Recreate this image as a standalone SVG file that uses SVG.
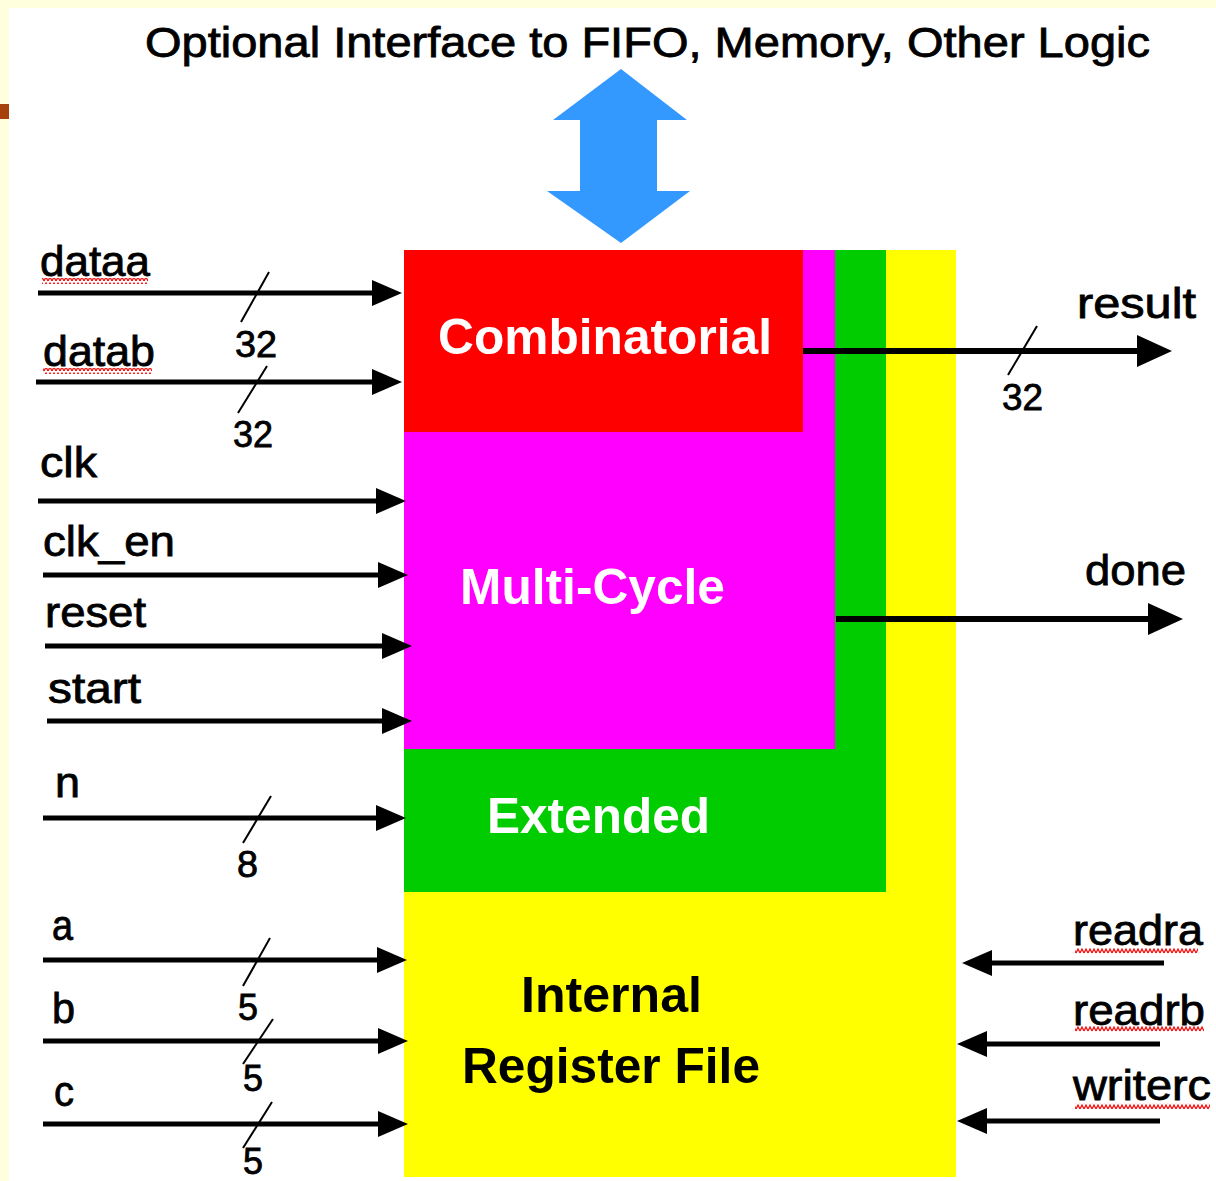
<svg xmlns="http://www.w3.org/2000/svg" width="1216" height="1181" viewBox="0 0 1216 1181">
<style>
.lbl{font-family:"Liberation Sans",Arial,sans-serif;font-size:42px;fill:#000;stroke:#000;stroke-width:0.8px}
.num{font-family:"Liberation Sans",Arial,sans-serif;font-size:36px;fill:#000;stroke:#000;stroke-width:0.8px}
.blk{font-family:"Liberation Sans",Arial,sans-serif;font-size:50px;font-weight:bold}
.w{fill:#fff}
.k{fill:#000}
.wire{stroke:#000;stroke-width:5;fill:none}
.owire{stroke:#000;stroke-width:6;fill:none}
.slash{stroke:#000;stroke-width:2}
.in{marker-end:url(#ah)}
.out{marker-end:url(#ahL)}
</style>
<defs>
<marker id="ah" markerUnits="userSpaceOnUse" markerWidth="30" markerHeight="26" refX="0" refY="13" orient="auto" overflow="visible">
<path d="M0,0 L30,13 L0,26 z" fill="#000"/>
</marker>
<marker id="ahL" markerUnits="userSpaceOnUse" markerWidth="35" markerHeight="32" refX="0" refY="16" orient="auto" overflow="visible">
<path d="M0,0 L35,16 L0,32 z" fill="#000"/>
</marker>
<pattern id="squig" patternUnits="userSpaceOnUse" width="4" height="6">
<polyline points="0,5 2,1 4,5" fill="none" stroke="#f00" stroke-width="1.2"/>
</pattern>
</defs>

<rect x="0" y="0" width="1216" height="1181" fill="#FFFFDE"/>
<rect x="9" y="8" width="1207" height="1173" fill="#FFFFFF"/>
<rect x="0" y="104" width="9" height="15" fill="#A8420C"/>

<text class="lbl" x="145" y="57" font-size="44" textLength="1005" lengthAdjust="spacingAndGlyphs">Optional Interface to FIFO, Memory, Other Logic</text>

<g id="interface-arrow">
<polygon points="621,69 687,120 657,120 657,191 690,191 621,243 547,191 580,191 580,120 553,120" fill="#3399FF"/>
</g>

<g id="regfile">
<rect x="404" y="250" width="552" height="927" fill="#FFFF00"/>
<text class="blk k" x="521" y="1012" textLength="181" lengthAdjust="spacingAndGlyphs">Internal</text>
<text class="blk k" x="462" y="1083" textLength="298" lengthAdjust="spacingAndGlyphs">Register File</text>
</g>
<g id="extended">
<rect x="404" y="250" width="482" height="642" fill="#00CC00"/>
<text class="blk w" x="487" y="833" textLength="223" lengthAdjust="spacingAndGlyphs">Extended</text>
</g>
<g id="multicycle">
<rect x="404" y="250" width="431" height="499" fill="#FF00FF"/>
<text class="blk w" x="460" y="604" textLength="265" lengthAdjust="spacingAndGlyphs">Multi-Cycle</text>
</g>
<g id="combinatorial">
<rect x="404" y="250" width="399" height="182" fill="#FF0000"/>
<text class="blk w" x="438" y="354" textLength="334" lengthAdjust="spacingAndGlyphs">Combinatorial</text>
</g>

<g id="connectors">
<line class="wire in" x1="38" y1="293" x2="372" y2="293"/>
<line class="wire in" x1="36" y1="382" x2="372" y2="382"/>
<line class="wire in" x1="38" y1="501" x2="376" y2="501"/>
<line class="wire in" x1="43" y1="575" x2="378" y2="575"/>
<line class="wire in" x1="45" y1="646" x2="382" y2="646"/>
<line class="wire in" x1="47" y1="721" x2="382" y2="721"/>
<line class="wire in" x1="43" y1="818" x2="376" y2="818"/>
<line class="wire in" x1="43" y1="960" x2="377" y2="960"/>
<line class="wire in" x1="43" y1="1041" x2="378" y2="1041"/>
<line class="wire in" x1="43" y1="1124" x2="378" y2="1124"/>
<line class="owire out" x1="803" y1="351" x2="1137" y2="351"/>
<line class="owire out" x1="836" y1="619" x2="1148" y2="619"/>
<line class="wire in" x1="1164" y1="963" x2="992" y2="963"/>
<line class="wire in" x1="1160" y1="1044" x2="987" y2="1044"/>
<line class="wire in" x1="1160" y1="1121" x2="987" y2="1121"/>

<line class="slash" x1="269" y1="272" x2="241" y2="322"/>
<line class="slash" x1="267" y1="366" x2="238" y2="413"/>
<line class="slash" x1="1037" y1="326" x2="1008" y2="375"/>
<line class="slash" x1="271" y1="796" x2="243" y2="843"/>
<line class="slash" x1="270" y1="938" x2="243" y2="986"/>
<line class="slash" x1="273" y1="1019" x2="243" y2="1064"/>
<line class="slash" x1="272" y1="1102" x2="243" y2="1148"/>
</g>

<g id="labels">
<text class="lbl" x="40" y="276" textLength="110" lengthAdjust="spacingAndGlyphs">dataa</text>
<text class="lbl" x="43" y="366" textLength="112" lengthAdjust="spacingAndGlyphs">datab</text>
<text class="lbl" x="40" y="477" textLength="57" lengthAdjust="spacingAndGlyphs">clk</text>
<text class="lbl" x="43" y="556" textLength="132" lengthAdjust="spacingAndGlyphs">clk_en</text>
<text class="lbl" x="45" y="627" textLength="101" lengthAdjust="spacingAndGlyphs">reset</text>
<text class="lbl" x="48" y="703" textLength="93" lengthAdjust="spacingAndGlyphs">start</text>
<text class="lbl" x="55" y="797" textLength="25" lengthAdjust="spacingAndGlyphs">n</text>
<text class="lbl" x="52" y="940" textLength="21" lengthAdjust="spacingAndGlyphs">a</text>
<text class="lbl" x="52" y="1023" textLength="23" lengthAdjust="spacingAndGlyphs">b</text>
<text class="lbl" x="54" y="1106" textLength="20" lengthAdjust="spacingAndGlyphs">c</text>
<text class="lbl" x="1077" y="318" textLength="119" lengthAdjust="spacingAndGlyphs">result</text>
<text class="lbl" x="1085" y="585" textLength="101" lengthAdjust="spacingAndGlyphs">done</text>
<text class="lbl" x="1073" y="945" textLength="130" lengthAdjust="spacingAndGlyphs">readra</text>
<text class="lbl" x="1073" y="1025" textLength="132" lengthAdjust="spacingAndGlyphs">readrb</text>
<text class="lbl" x="1073" y="1100" textLength="138" lengthAdjust="spacingAndGlyphs">writerc</text>

<text class="num" x="235" y="357" textLength="42" lengthAdjust="spacingAndGlyphs">32</text>
<text class="num" x="233" y="447" textLength="40" lengthAdjust="spacingAndGlyphs">32</text>
<text class="num" x="1002" y="410" textLength="41" lengthAdjust="spacingAndGlyphs">32</text>
<text class="num" x="237" y="877" textLength="21" lengthAdjust="spacingAndGlyphs">8</text>
<text class="num" x="238" y="1020" textLength="20" lengthAdjust="spacingAndGlyphs">5</text>
<text class="num" x="243" y="1091" textLength="20" lengthAdjust="spacingAndGlyphs">5</text>
<text class="num" x="243" y="1174" textLength="20" lengthAdjust="spacingAndGlyphs">5</text>
</g>

<g id="spellmarks">
<rect x="42" y="278" width="106" height="6" fill="url(#squig)"/>
<rect x="43" y="368" width="109" height="6" fill="url(#squig)"/>
<rect x="1075" y="948" width="123" height="6" fill="url(#squig)"/>
<rect x="1075" y="1026" width="129" height="6" fill="url(#squig)"/>
<rect x="1075" y="1103" width="135" height="6" fill="url(#squig)"/>
</g>
</svg>
